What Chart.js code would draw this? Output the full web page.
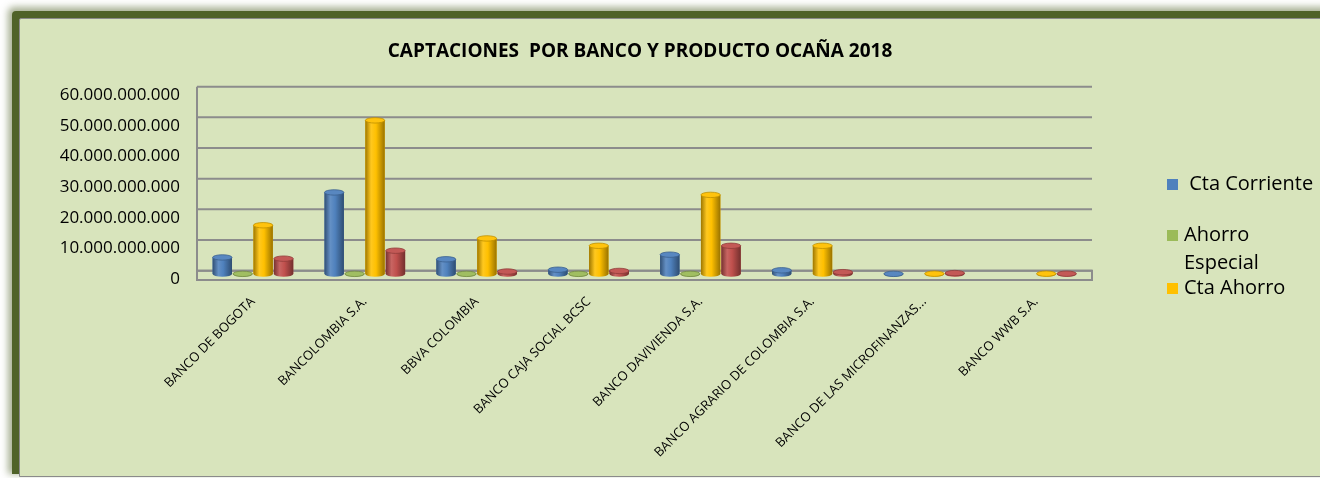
<!DOCTYPE html>
<html>
<head>
<meta charset="utf-8">
<script src="https://cdn.jsdelivr.net/npm/chart.js@4.4.0/dist/chart.umd.min.js"></script>
<style>
  body { margin: 0; background: #fff; overflow: hidden; }
  #frame {
    position: absolute; left: 19px; top: 18px; width: 1420px; height: 457px;
    background: #D8E4BC; border: 1px solid #8a8a8a;
    box-shadow: -5px -5px 0 2px #4F6228, -7px -7px 7px 4px rgba(79, 98, 40, 0.5);
    border-top-left-radius: 2px;
  }
  #wrap { position: absolute; left: 0; top: 0; width: 1320px; height: 478px; }
</style>
</head>
<body>
<div id="frame"></div>
<div id="wrap"><canvas id="chart-area"></canvas></div>
<script>
var bancos = ["BANCO DE BOGOTA", "BANCOLOMBIA S.A.", "BBVA COLOMBIA", "BANCO CAJA SOCIAL BCSC",
  "BANCO DAVIVIENDA S.A.", "BANCO AGRARIO DE COLOMBIA S.A.", "BANCO DE LAS MICROFINANZAS...", "BANCO WWB S.A."];

// valores en pesos
var ctaCorriente   = [5.4e9, 26.6e9, 4.8e9, 1.4e9, 6.3e9, 1.2e9, 0.05e9, null];
var ahorroEspecial = [0.05e9, 0.05e9, 0.05e9, 0.05e9, 0.05e9, null, null, null];
var ctaAhorro      = [15.9e9, 50.1e9, 11.6e9, 9.2e9, 25.8e9, 9.2e9, 0.1e9, 0.1e9];
var cdt            = [5.0e9, 7.6e9, 0.8e9, 1.0e9, 9.2e9, 0.6e9, 0.3e9, 0.1e9];

var yMax = 60e9;
var yStep = 10e9;

var colores = ["#4F81BD", "#9BBB59", "#FFC000", "#C0504D"];

function puntos(v) {
  return String(Math.round(v)).replace(/\B(?=(\d{3})+(?!\d))/g, ".");
}

function shade(hex, f) {
  var n = parseInt(hex.slice(1), 16);
  var r = (n >> 16) & 255, g = (n >> 8) & 255, b = n & 255;
  function c(x) { return Math.max(0, Math.min(255, Math.round(f > 1 ? x + (255 - x) * (f - 1) : x * f))); }
  return "rgb(" + c(r) + "," + c(g) + "," + c(b) + ")";
}

var DEPTH = 3.3;

// fondo 3D: lineas de la pared y piso
var fondo = {
  id: "fondo",
  beforeDatasetsDraw: function (chart) {
    var ctx = chart.ctx, a = chart.chartArea, y = chart.scales.y;
    ctx.save();
    ctx.strokeStyle = "#8C8C8C";
    ctx.lineWidth = 2;
    y.ticks.forEach(function (t) {
      var py = y.getPixelForValue(t.value) - DEPTH;
      ctx.beginPath();
      ctx.moveTo(a.left, py);
      ctx.lineTo(a.right, py);
      ctx.stroke();
    });
    // pared izquierda
    ctx.beginPath();
    ctx.moveTo(a.left, y.getPixelForValue(yMax) - DEPTH);
    ctx.lineTo(a.left, y.getPixelForValue(0) + 6);
    ctx.stroke();
    // piso
    var y0 = y.getPixelForValue(0);
    ctx.strokeRect(a.left, y0 - DEPTH, a.right - a.left, DEPTH + 6);
    ctx.restore();
  }
};

// cilindros
var cilindros = {
  id: "cilindros",
  afterDatasetsDraw: function (chart) {
    var ctx = chart.ctx;
    chart.data.datasets.forEach(function (ds, i) {
      var meta = chart.getDatasetMeta(i);
      var col = colores[i];
      meta.data.forEach(function (bar, j) {
        if (ds.data[j] == null) return;
        var p = bar.getProps(["x", "y", "base", "width"], true);
        var w = p.width / 2, ry = 2.7;
        var l = p.x - w, r = p.x + w;
        var g = ctx.createLinearGradient(l, 0, r, 0);
        g.addColorStop(0, shade(col, 0.62));
        g.addColorStop(0.3, shade(col, 1.12));
        g.addColorStop(0.55, col);
        g.addColorStop(1, shade(col, 0.6));
        ctx.save();
        ctx.fillStyle = g;
        ctx.beginPath();
        ctx.moveTo(l, p.y);
        ctx.lineTo(l, p.base);
        ctx.ellipse(p.x, p.base, w, ry, 0, Math.PI, 0, true);
        ctx.lineTo(r, p.y);
        ctx.closePath();
        ctx.fill();
        ctx.beginPath();
        ctx.ellipse(p.x, p.y, w, ry, 0, 0, Math.PI * 2);
        ctx.fillStyle = shade(col, 1.05);
        ctx.fill();
        ctx.strokeStyle = shade(col, 0.75);
        ctx.lineWidth = 0.8;
        ctx.stroke();
        ctx.restore();
      });
    });
  }
};

// titulo y leyenda
var textos = {
  id: "textos",
  afterDraw: function (chart) {
    var ctx = chart.ctx;
    ctx.save();
    ctx.fillStyle = "#000";
    ctx.textAlign = "center";
    ctx.textBaseline = "middle";
    ctx.font = "bold 19px 'Open Sans'";
    ctx.fillText("CAPTACIONES  POR BANCO Y PRODUCTO OCAÑA 2018", 640, 52);

    var filas = [
      { sq: 179, lines: [[" " + chart.data.datasets[0].label, 184]] },
      { sq: 230, lines: [["Ahorro", 235], ["Especial", 263]] },
      { sq: 283, lines: [[chart.data.datasets[2].label, 288]] }
    ];
    ctx.textAlign = "left";
    ctx.font = "20px 'Open Sans'";
    filas.forEach(function (f, i) {
      ctx.fillStyle = colores[i];
      ctx.fillRect(1167, f.sq, 11, 11);
      ctx.fillStyle = "#000";
      f.lines.forEach(function (ln) { ctx.fillText(ln[0], 1184, ln[1]); });
    });
    ctx.restore();
  }
};

var ctx = document.getElementById("chart-area");

var myChart = new Chart(ctx, {
  type: "bar",
  data: {
    labels: bancos,
    datasets: [
      { label: "Cta Corriente", data: ctaCorriente, backgroundColor: colores[0] },
      { label: "Ahorro Especial", data: ahorroEspecial, backgroundColor: colores[1] },
      { label: "Cta Ahorro", data: ctaAhorro, backgroundColor: colores[2] },
      { label: "CDT", data: cdt, backgroundColor: colores[3] }
    ]
  },
  options: {
    responsive: true,
    maintainAspectRatio: false,
    animation: false,
    layout: { padding: { left: 0, right: 228, top: 90, bottom: 0 } },
    datasets: { bar: { categoryPercentage: 0.73, barPercentage: 0.95, borderWidth: 0 } },
    plugins: {
      legend: { display: false },
      title: { display: false },
      tooltip: { enabled: false }
    },
    scales: {
      x: {
        grid: { display: false },
        border: { display: false },
        ticks: {
          autoSkip: false, minRotation: 45, maxRotation: 45, padding: 12,
          color: "#000", font: { family: "'Open Sans'", size: 13 }
        },
        afterFit: function (s) { s.height = 204; }
      },
      y: {
        min: 0,
        max: yMax,
        grid: { display: false, drawTicks: false },
        border: { display: false },
        ticks: {
          stepSize: yStep, padding: 17, labelOffset: 5,
          color: "#000", font: { family: "'Open Sans'", size: 17 },
          callback: function (v) { return puntos(v); }
        },
        afterFit: function (s) { s.width = 197; }
      }
    }
  },
  plugins: [fondo, cilindros, textos]
});
</script>
</body>
</html>
